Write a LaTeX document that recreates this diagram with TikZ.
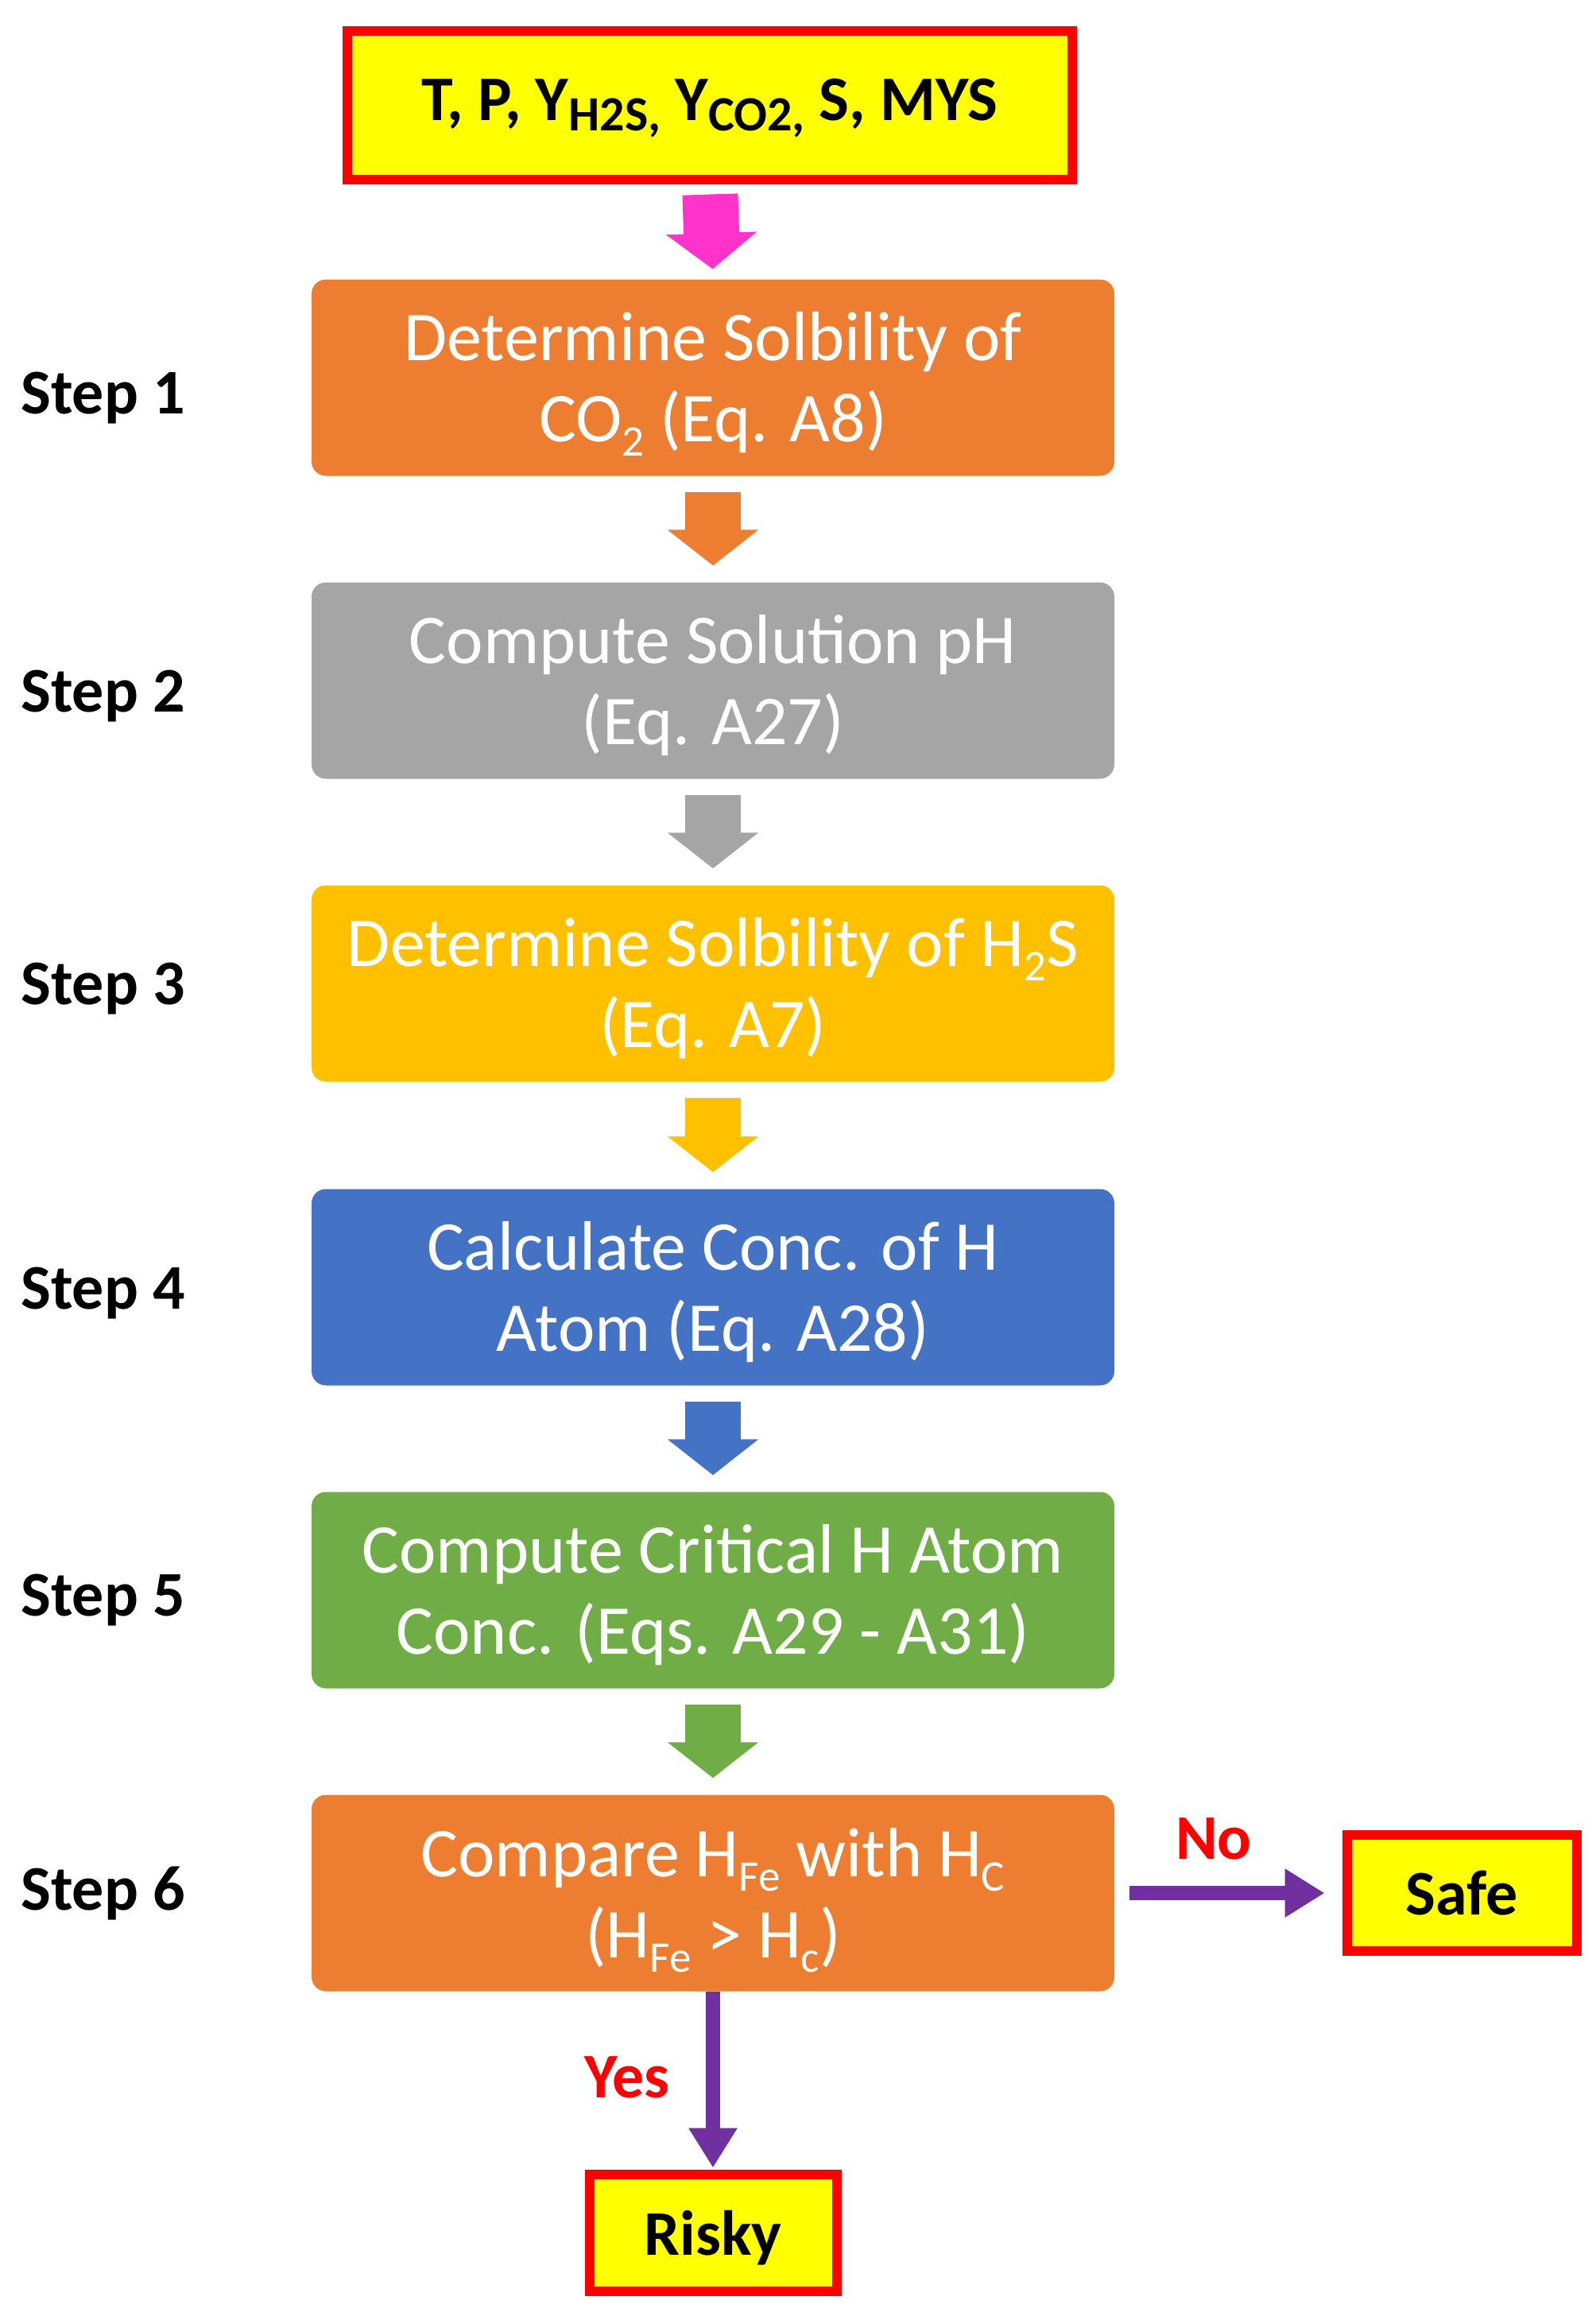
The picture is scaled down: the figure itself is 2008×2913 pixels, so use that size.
\documentclass[tikz,border=0pt]{standalone}
\usepackage{fontspec}
\setmainfont{Carlito}
\usetikzlibrary{arrows.meta}
\definecolor{corange}{HTML}{ED7D31}
\definecolor{cgray}{HTML}{A5A5A5}
\definecolor{cgold}{HTML}{FFC000}
\definecolor{cblue}{HTML}{4472C4}
\definecolor{cgreen}{HTML}{70AD47}
\definecolor{cpurple}{HTML}{7030A0}
\definecolor{cpink}{HTML}{FF33CC}
\definecolor{cyellow}{HTML}{FFFF00}
\definecolor{cred}{HTML}{FF0000}
% subscript: size, drop
\newcommand\mysub[3]{\raisebox{-#2pt}[0pt][0pt]{\fontsize{#1}{#1}\selectfont #3}}
\newcommand\bs[1]{\mysub{55}{18}{#1}}
\newcommand\ts[1]{\mysub{62}{13}{#1}}
\newcommand\fl{\rule{0pt}{74pt}}
\tikzset{
  stepbox/.style={rounded corners=18pt, minimum width=1010pt, minimum height=247pt,
    inner sep=0pt, align=center, text=white, font=\fontsize{88}{102}\selectfont},
  outbox/.style={draw=cred, fill=cyellow, line width=12pt, inner sep=0pt, text depth=0pt,
    align=center, font=\fontsize{80}{96}\selectfont\bfseries},
  steplabel/.style={anchor=mid west, inner sep=0pt, font=\fontsize{80}{96}\selectfont\bfseries},
  declabel/.style={inner sep=0pt, text=cred, font=\fontsize{80}{96}\selectfont\bfseries},
  blockarrow/.style={line width=70pt, -{Triangle[length=45pt,width=112pt]},
    shorten <=20pt, shorten >=21pt},
  decarrow/.style={draw=cpurple, line width=18pt, -{Triangle[length=50pt,width=58pt]}}
}
\begin{document}
\begin{tikzpicture}[x=1pt,y=-1pt]
\useasboundingbox (0,0) rectangle (2008,2913);
% input box
\node[outbox, minimum width=912pt, minimum height=187pt, text depth=14pt]
  (in) at (893,132) {T, P, Y\ts{H2S,} Y\ts{CO2,} S, MYS};
% steps
\node[stepbox, fill=corange] (b1) at (897,475) {\fl Determine Solbility of\\CO\bs{2} (Eq. A8)};
\node[stepbox, fill=cgray] (b2) at (897,856) {\fl Compute Solution pH\\(Eq. A27)};
\node[stepbox, fill=cgold] (b3) at (897,1237) {\fl Determine Solbility of H\bs{2}S\\(Eq. A7)};
\node[stepbox, fill=cblue] (b4) at (897,1619) {\fl Calculate Conc. of H\\Atom (Eq. A28)};
\node[stepbox, fill=cgreen] (b5) at (897,2000) {\fl Compute Critical H Atom\\Conc. (Eqs. A29 - A31)};
\node[stepbox, fill=corange] (b6) at (897,2381) {\fl Compare H\bs{Fe} with H\bs{C}\\(H\bs{Fe} > H\bs{c})};
% step labels
\node[steplabel] (s1) at (26,518) {Step 1};
\node[steplabel] (s2) at (26,893) {Step 2};
\node[steplabel] (s3) at (26,1261) {Step 3};
\node[steplabel] (s4) at (26,1644) {Step 4};
\node[steplabel] (s5) at (26,2030) {Step 5};
\node[steplabel] (s6) at (26,2400) {Step 6};
% outcomes
\node[outbox, minimum width=289pt, minimum height=146pt] (safe) at (1839,2381) {Safe};
\node[outbox, minimum width=311pt, minimum height=147pt] (risky) at (897,2808) {Risky};
% block arrows
\draw[blockarrow, draw=cpink, shorten <=13pt, shorten >=13pt] (in.south) -- (b1.north);
\draw[blockarrow, draw=corange] (b1.south) -- (b2.north);
\draw[blockarrow, draw=cgray] (b2.south) -- (b3.north);
\draw[blockarrow, draw=cgold] (b3.south) -- (b4.north);
\draw[blockarrow, draw=cblue] (b4.south) -- (b5.north);
\draw[blockarrow, draw=cgreen] (b5.south) -- (b6.north);
% decision arrows
\draw[decarrow, shorten <=19pt, shorten >=22pt] (b6.east) -- (safe.west);
\draw[decarrow, shorten >=2pt] (b6.south) -- (risky.north);
\node[declabel] (no) at (1527,2313) {No};
\node[declabel] (yes) at (789,2613) {Yes};
\end{tikzpicture}
\end{document}
